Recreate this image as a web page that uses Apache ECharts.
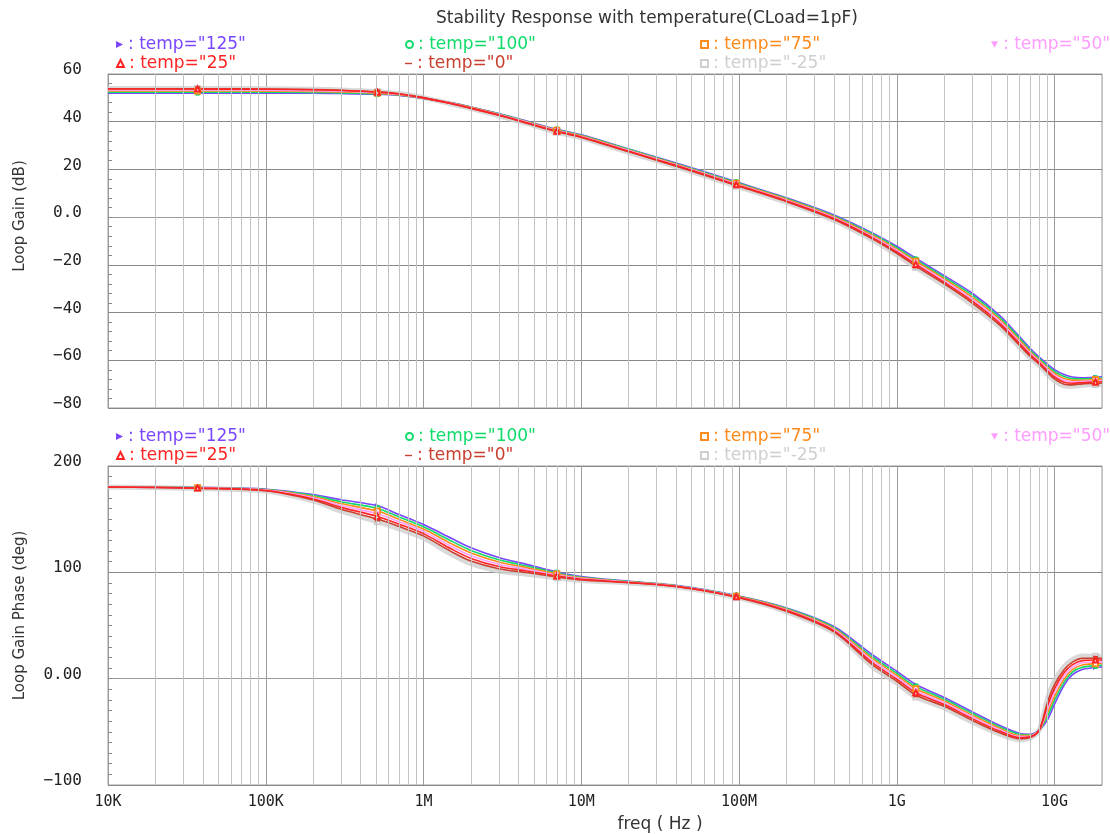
<!DOCTYPE html>
<html>
<head>
<meta charset="utf-8">
<title>Stability Response with temperature</title>
<script src="https://cdn.jsdelivr.net/npm/echarts@6/dist/echarts.min.js"></script>
<style>
  html, body { margin: 0; padding: 0; background: #ffffff; }
  #chart { width: 1110px; height: 834px; }
</style>
</head>
<body>
<div id="chart"></div>
<script>
// Sweep frequencies (Hz)
const freqs = [1e4, 3.7e4, 1e5, 2e5, 3e5, 5.1e5, 7e5, 1e6, 1.5e6, 2e6, 3e6, 4.5e6, 7e6, 1e7, 2e7, 4e7,
  9.6e7, 2e8, 4e8, 7e8, 1e9, 1.32e9, 2e9, 3e9, 4.5e9, 6e9, 7e9, 8e9, 9e9, 1e10, 1.15e10, 1.3e10,
  1.5e10, 1.82e10, 2e10];

// Temperature corners
const temps = ['125', '100', '75', '50', '25', '0', '-25'];

// Loop gain (dB) per corner
const gain125 = [52.0, 52.0, 52.0, 51.9, 51.8, 51.5, 51.0, 49.8, 47.9, 46.2, 43.4, 40.3, 36.8, 34.5, 28.6, 22.7,
  14.8, 8.1, 0.9, -6.6, -12.2, -17.2, -24.5, -31.8, -41.3, -50.1, -55.0, -58.7, -61.6, -63.9, -66.0, -67.0,
  -67.3, -67.1, -66.9];
const gain100 = [52.4, 52.4, 52.4, 52.3, 52.1, 51.7, 51.2, 49.9, 47.8, 46.1, 43.3, 40.1, 36.6, 34.3, 28.4, 22.4,
  14.5, 7.8, 0.5, -7.1, -12.8, -17.9, -25.2, -32.6, -42.1, -50.8, -55.7, -59.3, -62.3, -64.7, -66.8, -67.7,
  -67.8, -67.6, -67.4];
const gain75 = [52.9, 52.9, 52.8, 52.7, 52.5, 52.0, 51.3, 49.9, 47.8, 46.0, 43.1, 40.0, 36.4, 34.1, 28.1, 22.2,
  14.2, 7.5, 0.2, -7.6, -13.4, -18.5, -25.9, -33.5, -42.9, -51.6, -56.3, -59.9, -63.0, -65.5, -67.6, -68.3,
  -68.4, -68.1, -67.9];
const gain50 = [53.3, 53.3, 53.2, 53.0, 52.8, 52.2, 51.5, 50.0, 47.7, 45.8, 43.0, 39.8, 36.2, 33.8, 27.9, 21.9,
  13.9, 7.1, -0.2, -8.1, -14.0, -19.2, -26.6, -34.3, -43.7, -52.3, -57.0, -60.4, -63.6, -66.2, -68.4, -69.0,
  -68.9, -68.6, -68.5];
const gain25 = [53.7, 53.7, 53.6, 53.4, 53.1, 52.4, 51.6, 50.0, 47.6, 45.7, 42.8, 39.6, 36.0, 33.6, 27.6, 21.6,
  13.6, 6.8, -0.6, -8.6, -14.6, -19.8, -27.3, -35.1, -44.5, -53.0, -57.6, -61.0, -64.3, -67.0, -69.2, -69.6,
  -69.4, -69.1, -69.0];
const gain0 = [53.8, 53.8, 53.7, 53.5, 53.2, 52.5, 51.7, 50.1, 47.5, 45.6, 42.7, 39.4, 35.8, 33.4, 27.4, 21.3,
  13.3, 6.5, -1.0, -9.1, -15.2, -20.5, -28.0, -35.9, -45.3, -53.7, -58.3, -61.6, -65.0, -67.8, -70.0, -70.3,
  -69.9, -69.6, -69.5];
const gainM25 = [53.9, 53.9, 53.8, 53.6, 53.3, 52.6, 51.8, 50.1, 47.4, 45.5, 42.5, 39.3, 35.6, 33.2, 27.1, 21.1,
  13.0, 6.2, -1.4, -9.6, -15.8, -21.1, -28.7, -36.8, -46.1, -54.5, -58.9, -62.2, -65.7, -68.6, -70.8, -70.9,
  -70.5, -70.1, -70.1];

// Loop gain phase (deg) per corner
const phase125 = [180.5, 179.8, 178.2, 173.2, 168.2, 162.6, 154.3, 144.9, 132.0, 123.1, 113.9, 107.5, 100.3, 96.0,
  91.5, 87.5, 78.2, 66.5, 49.0, 22.5, 7.0, -5.5, -17.7, -31.0, -44.0, -51.4, -52.3, -48.5, -39.0, -24.0, -6.2,
  3.8, 8.6, 10.6, 11.0];
const phase100 = [180.5, 179.7, 177.9, 172.2, 166.4, 160.1, 152.1, 142.8, 129.5, 120.6, 111.8, 106.0, 99.4, 95.4,
  91.3, 87.3, 77.9, 65.9, 48.0, 20.6, 5.1, -7.5, -19.4, -32.6, -45.4, -52.4, -52.9, -48.5, -35.8, -20.3, -3.3,
  6.2, 10.7, 12.3, 12.6];
const phase75 = [180.4, 179.5, 177.6, 171.1, 164.7, 157.6, 149.8, 140.7, 127.0, 118.1, 109.7, 104.4, 98.5, 94.8,
  91.0, 87.2, 77.6, 65.3, 47.0, 18.8, 3.3, -9.4, -21.0, -34.3, -46.8, -53.5, -53.5, -48.4, -32.5, -16.7, -0.4,
  8.5, 12.8, 14.1, 14.3];
const phase50 = [180.4, 179.4, 177.3, 170.1, 162.9, 155.1, 147.6, 138.5, 124.5, 115.6, 107.6, 102.9, 97.5, 94.1,
  90.8, 87.0, 77.3, 64.6, 46.0, 16.9, 1.4, -11.4, -22.7, -35.9, -48.1, -54.5, -54.1, -48.4, -29.3, -13.0, 2.6,
  10.9, 14.9, 15.8, 15.9];
const phase25 = [180.3, 179.2, 177.0, 169.0, 161.1, 152.6, 145.3, 136.4, 122.0, 113.1, 105.5, 101.3, 96.6, 93.5,
  90.5, 86.8, 77.0, 64.0, 45.0, 15.0, -0.5, -13.3, -24.3, -37.5, -49.5, -55.5, -54.7, -48.3, -26.0, -9.3, 5.5,
  13.2, 17.0, 17.5, 17.5];
const phase0 = [180.3, 179.1, 176.7, 168.0, 159.3, 150.1, 143.1, 134.3, 119.5, 110.6, 103.4, 99.8, 95.7, 92.9,
  90.3, 86.6, 76.7, 63.4, 44.0, 13.1, -2.4, -15.3, -26.0, -39.1, -50.9, -56.5, -55.3, -48.3, -22.8, -5.6, 8.4,
  15.6, 19.1, 19.2, 19.1];
const phaseM25 = [180.2, 178.9, 176.4, 166.9, 157.6, 147.6, 140.8, 132.2, 117.0, 108.1, 101.3, 98.2, 94.8, 92.3,
  90.0, 86.5, 76.4, 62.8, 43.0, 11.3, -4.3, -17.2, -27.6, -40.8, -52.3, -57.6, -55.9, -48.2, -19.5, -2.0, 11.4,
  17.9, 21.2, 21.0, 20.8];

// Sample indices that carry a curve marker
const markerIndices = [1, 5, 12, 16, 21, 33];

// Axis tick labels
const freqTickLabels = ['10K', '100K', '1M', '10M', '100M', '1G', '10G'];
const gainTicks = [60, 40, 20, 0, -20, -40, -60, -80];
const gainTickLabels = ['60', '40', '20', '0.0', '\u221220', '\u221240', '\u221260', '\u221280'];
const phaseTicks = [200, 100, 0, -100];
const phaseTickLabels = ['200', '100', '0.00', '\u2212100'];

const gainByTemp = [gain125, gain100, gain75, gain50, gain25, gain0, gainM25];
const phaseByTemp = [phase125, phase100, phase75, phase50, phase25, phase0, phaseM25];

// ---- styling ----
const colors = ['#7a46ff', '#10dc6a', '#ff8a1c', '#ff9cff', '#ff2424', '#c8402e', '#cfcfcf'];
const symbols = [
  'path://M0,0 L10,5 L0,10 Z',
  'emptyCircle',
  'emptyRect',
  'path://M0,0 L10,0 L5,9 Z',
  'emptyTriangle',
  'path://M0,4 L10,4 L10,6 L0,6 Z',
  'emptyRect'
];
// legend slots: [column x, row index]
const legendSlots = [[116, 0], [405, 0], [700, 0], [991, 0], [116, 1], [405, 1], [700, 1]];
const legendRowTops = [[36, 55], [428, 447]];
// draw order: coldest halo first, 25 °C on top
const drawOrder = [6, 0, 1, 2, 3, 5, 4];

const FONT = 'DejaVu Sans';
const MONO = 'DejaVu Sans Mono';
const seriesName = t => 'temp="' + t + '"';

function freqLabel(v) {
  const e = Math.log10(v);
  const r = Math.round(e);
  if (Math.abs(e - r) > 1e-6) return '';
  const i = r - 4;
  return freqTickLabels[i] !== undefined ? freqTickLabels[i] : '';
}
function tickLabel(ticks, labels) {
  return function (v) {
    const i = ticks.indexOf(Math.round(v));
    return i >= 0 ? labels[i] : '';
  };
}

// minor vertical grid positions 2..9 of each decade
const minorGridFreqs = [];
for (let e = 4; e <= 10; e++) {
  for (let k = 2; k <= 9; k++) {
    const f = k * Math.pow(10, e);
    if (f <= 2e10) minorGridFreqs.push(f);
  }
}

const grids = [
  { left: 108, top: 74, width: 994, height: 334, show: true, borderColor: '#9a9a9a', borderWidth: 1 },
  { left: 108, top: 466, width: 994, height: 321, show: true, borderColor: '#9a9a9a', borderWidth: 1 }
];

function makeXAxis(gridIndex, showLabels) {
  return {
    type: 'log', gridIndex: gridIndex, logBase: 10, min: 1e4, max: 2e10,
    axisLine: { show: true, lineStyle: { color: '#9a9a9a' } },
    axisTick: { show: false },
    axisLabel: {
      show: showLabels, formatter: freqLabel, margin: 10,
      fontFamily: MONO, fontSize: 15, color: '#222'
    },
    splitLine: { show: true, lineStyle: { color: '#9c9c9c', width: 1 } },
    name: showLabels ? 'freq ( Hz )' : '',
    nameLocation: 'middle', nameGap: 31,
    nameTextStyle: { fontFamily: FONT, fontSize: 17, color: '#333', padding: [0, 0, 0, 110] }
  };
}

function makeYAxis(gridIndex, name, min, max, interval, ticks, labels, minorSplit, nameShift) {
  return {
    type: 'value', gridIndex: gridIndex, min: min, max: max, interval: interval,
    name: name, nameLocation: 'middle', nameGap: 80,
    nameTextStyle: { fontFamily: FONT, fontSize: 15, color: '#333', padding: [0, 0, 0, nameShift] },
    axisLine: { show: true, lineStyle: { color: '#9a9a9a' } },
    axisTick: { show: true, inside: true, length: 5, lineStyle: { color: '#8a8a8a' } },
    minorTick: { show: true, splitNumber: minorSplit, length: 4, lineStyle: { color: '#8a8a8a' } },
    axisLabel: {
      formatter: tickLabel(ticks, labels), margin: 26, verticalAlign: 'bottom', lineHeight: 8,
      fontFamily: MONO, fontSize: 16, color: '#222'
    },
    splitLine: { show: true, lineStyle: { color: '#888888', width: 1 } }
  };
}

const series = [];
// light gray minor decade lines, one holder series per plot
[0, 1].forEach(g => {
  series.push({
    type: 'line', xAxisIndex: g, yAxisIndex: g, data: [], z: 1, silent: true,
    markLine: {
      silent: true, symbol: 'none', animation: false,
      label: { show: false },
      lineStyle: { color: '#c2c2c2', type: 'solid', width: 1 },
      data: minorGridFreqs.map(f => ({ xAxis: f }))
    }
  });
});

[0, 1].forEach(g => {
  const values = g === 0 ? gainByTemp : phaseByTemp;
  drawOrder.forEach(ti => {
    const isHalo = ti === 6;
    series.push({
      type: 'line', name: seriesName(temps[ti]), xAxisIndex: g, yAxisIndex: g,
      data: freqs.map((f, i) => [f, values[ti][i]]),
      smooth: 0.3, animation: false, z: isHalo ? 2 : 3,
      symbol: symbols[ti], showSymbol: true,
      symbolSize: (v, p) => (markerIndices.indexOf(p.dataIndex) >= 0 ? 5 : 0),
      itemStyle: { color: colors[ti] },
      lineStyle: { color: colors[ti], width: isHalo ? 5 : 1.6, opacity: isHalo ? 0.8 : 1 },
      emphasis: { disabled: true }
    });
  });
});

const legends = [];
[0, 1].forEach(g => {
  temps.forEach((t, ti) => {
    const slot = legendSlots[ti];
    legends.push({
      left: slot[0], top: legendRowTops[g][slot[1]], padding: 0,
      orient: 'horizontal', selectedMode: false,
      itemWidth: 7, itemHeight: 7,
      data: [{ name: seriesName(t), icon: symbols[ti], itemStyle: { color: colors[ti] } }],
      formatter: ': {name}',
      textStyle: { fontFamily: FONT, fontSize: 17, color: colors[ti] }
    });
  });
});

const chart = echarts.init(document.getElementById('chart'), null, { renderer: 'canvas' });
chart.setOption({
  backgroundColor: '#ffffff',
  animation: false,
  title: {
    text: 'Stability Response with temperature(CLoad=1pF)',
    left: 431, top: 5,
    textStyle: { fontFamily: FONT, fontSize: 17, fontWeight: 'normal', color: '#333' }
  },
  legend: legends,
  grid: grids,
  xAxis: [makeXAxis(0, false), makeXAxis(1, true)],
  yAxis: [
    makeYAxis(0, 'Loop Gain (dB)', -80, 60, 20, gainTicks, gainTickLabels, 5, 50),
    makeYAxis(1, 'Loop Gain Phase (deg)', -100, 200, 100, phaseTicks, phaseTickLabels, 10, 20)
  ],
  series: series
});
</script>
</body>
</html>
